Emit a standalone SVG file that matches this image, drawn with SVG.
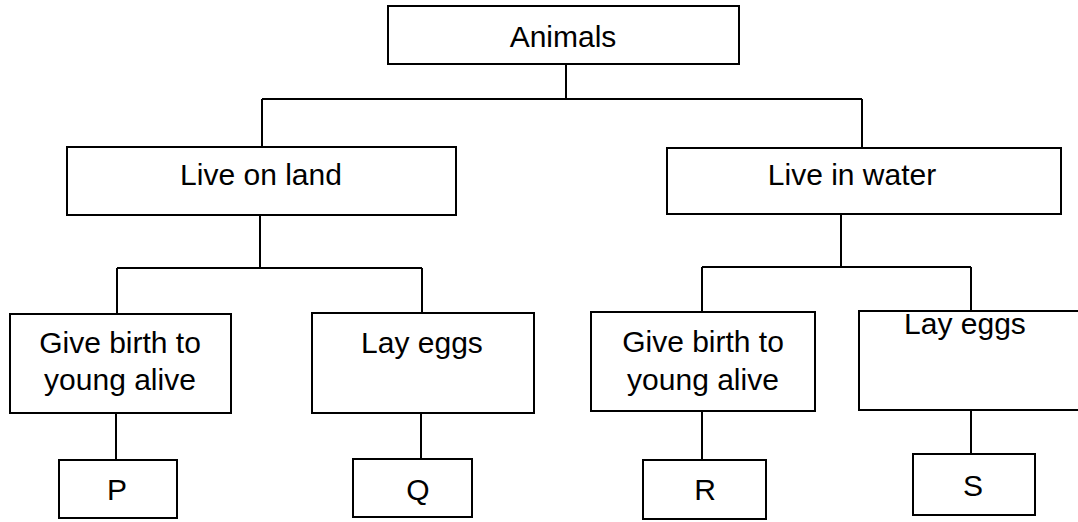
<svg xmlns="http://www.w3.org/2000/svg" width="1078" height="522" viewBox="0 0 1078 522">
<style>
.box{fill:#fff;stroke:#000;stroke-width:2}
.ln{fill:none;stroke:#000;stroke-width:2}
text{font-family:"Liberation Sans",Arial,sans-serif;font-size:30px;fill:#000;text-anchor:middle}
</style>
<rect width="1078" height="522" fill="#fff"/>
<g id="connectors">
<path class="ln" d="M566,64V99M262,99H862M262,99V147M862,99V148"/>
<path class="ln" d="M260,215V268M117,268H422M117,268V314M422,268V313"/>
<path class="ln" d="M841,214V267M702,267H971M702,267V312M971,267V311"/>
<path class="ln" d="M116,413V460M421,413V459M702,411V460M971,410V454"/>
</g>
<g id="animals"><rect class="box" x="388" y="6" width="351" height="58"/><text x="563" y="47">Animals</text></g>
<g id="land"><rect class="box" x="67" y="147" width="389" height="68"/><text x="261" y="185">Live on land</text></g>
<g id="water"><rect class="box" x="667" y="148" width="394" height="66"/><text x="852" y="185">Live in water</text></g>
<g id="land-birth"><rect class="box" x="10" y="314" width="221" height="99"/><text x="120" y="353">Give birth to</text><text x="120" y="390">young alive</text></g>
<g id="land-eggs"><rect class="box" x="312" y="313" width="222" height="100"/><text x="422" y="353">Lay eggs</text></g>
<g id="water-birth"><rect class="box" x="591" y="312" width="224" height="99"/><text x="703" y="352">Give birth to</text><text x="703" y="390">young alive</text></g>
<g id="water-eggs"><rect class="box" x="859" y="311" width="230" height="99"/><text x="965" y="334">Lay eggs</text></g>
<g id="P"><rect class="box" x="59" y="460" width="118" height="58"/><text x="117" y="500">P</text></g>
<g id="Q"><rect class="box" x="353" y="459" width="119" height="58"/><text x="418" y="500">Q</text></g>
<g id="R"><rect class="box" x="643" y="460" width="123" height="59"/><text x="705" y="500">R</text></g>
<g id="S"><rect class="box" x="913" y="454" width="122" height="61"/><text x="973" y="496">S</text></g>
</svg>
